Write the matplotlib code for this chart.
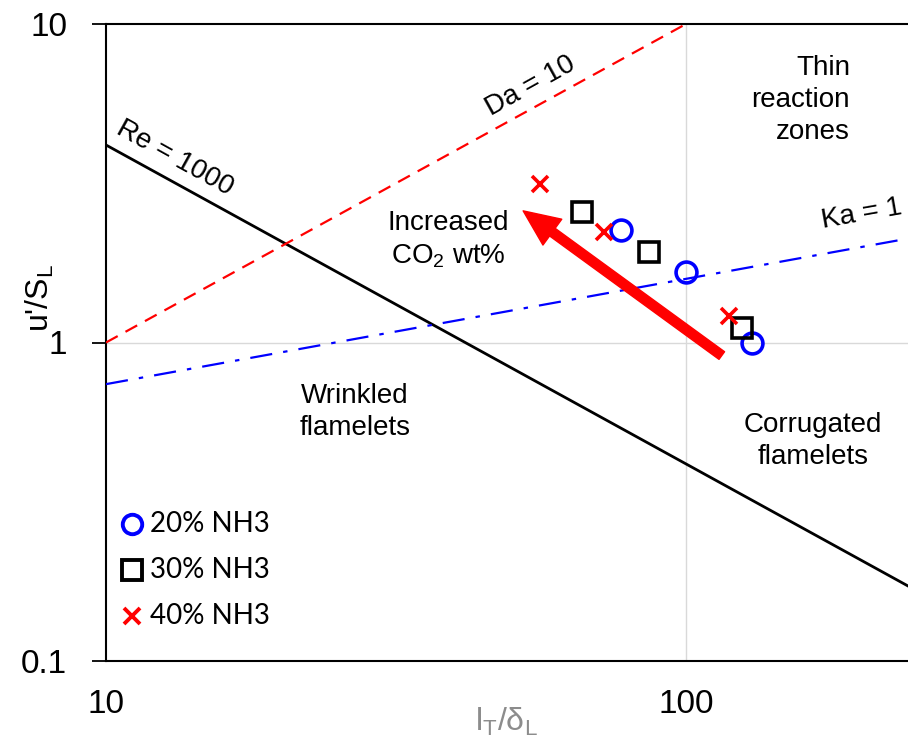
import matplotlib.pyplot as plt

# Combustion regime diagram data
ratio_20 = [77.3, 100.0, 130.0]     # l_T/delta_L
speed_20 = [2.26, 1.66, 1.0]        # u'/S_L
ratio_30 = [66.2, 86.3, 125.0]
speed_30 = [2.57, 1.93, 1.11]
ratio_40 = [56.0, 72.2, 118.6]
speed_40 = [3.15, 2.23, 1.21]

# Regime boundaries (end points)
re_x, re_y = [10, 241.5], [4.17, 0.172]
da_x, da_y = [10, 100], [1.0, 10.0]
ka_x, ka_y = [10, 241.5], [0.74, 2.12]

arrow_tail = (115.3, 0.91)
arrow_tip = (52.4, 2.59)

W, H = 908, 746
fig = plt.figure(figsize=(W / 100, H / 100), dpi=100)
ax = fig.add_axes([106 / W, (H - 661) / H, (W - 106) / W, (661 - 24) / H])
ax.set_xscale('log')
ax.set_yscale('log')
ax.set_xlim(10, 241.5)
ax.set_ylim(0.1, 10)

sans = ['Liberation Sans', 'DejaVu Sans']

ax.plot(re_x, re_y, color='black', lw=2.0, zorder=3)
ax.plot(da_x, da_y, color='red', lw=1.6, dashes=(6, 4), zorder=3)
ax.plot(ka_x, ka_y, color='blue', lw=1.6, dashes=(10, 5, 2, 5), zorder=3)

ax.plot(ratio_20, speed_20, 'o', ms=15, mfc='none', mec='blue', mew=2.6, ls='none', zorder=4)
ax.plot(ratio_30, speed_30, 's', ms=15, mfc='none', mec='black', mew=2.6, ls='none', zorder=4)
ax.plot(ratio_40, speed_40, 'x', ms=12, mec='red', mew=2.6, ls='none', zorder=4)

ax.annotate('', xy=arrow_tip, xytext=arrow_tail,
            arrowprops=dict(arrowstyle='simple,head_width=1.15,head_length=1.3,tail_width=0.34',
                            color='red', shrinkA=0, shrinkB=0, mutation_scale=20),
            zorder=5)

# grid only at the major decades
ax.axvline(100, color='#d9d9d9', lw=1, zorder=1)
ax.axhline(1, color='#d9d9d9', lw=1, zorder=1)

ax.spines['right'].set_visible(False)
for s in ['left', 'bottom', 'top']:
    ax.spines[s].set_linewidth(1.5)

ax.set_xticks([10, 100])
ax.set_xticklabels(['10', '100'])
ax.set_yticks([0.1, 1, 10])
ax.set_yticklabels(['0.1', '1', '10'])
ax.minorticks_off()
ax.tick_params(axis='x', length=0, pad=20)
ax.tick_params(axis='y', length=10, width=1.3, pad=18)
for lab in ax.get_xticklabels() + ax.get_yticklabels():
    lab.set_family(sans)
    lab.set_fontsize(24)

fig.text(506 / W, (H - 722) / H, r'l$_\mathregular{T}$/δ$_\mathregular{L}$', fontsize=23,
         color='#8c8c8c', family=sans, ha='center', va='center')
fig.text(40 / W, (H - 298) / H, r"u'/S$_\mathregular{L}$", fontsize=23, family=sans,
         rotation=90, ha='center', va='center')

txt = dict(fontsize=20, family=sans, zorder=6)
ax.text(850, H - 100, 'Thin\nreaction\nzones', transform=None, ha='right', va='center',
        multialignment='right', linespacing=1.3, **txt)
ax.text(355, H - 412, 'Wrinkled\nflamelets', transform=None, ha='center', va='center',
        linespacing=1.3, **txt)
ax.text(813, H - 441, 'Corrugated\nflamelets', transform=None, ha='center', va='center',
        linespacing=1.3, **txt)
ax.text(448, H - 240, 'Increased\nCO$_\\mathregular{2}$ wt%', transform=None, ha='center',
        va='center', linespacing=1.25, **txt)

ax.text(175, H - 158, 'Re = 1000', transform=None, rotation=-29, ha='center', va='center', **txt)
ax.text(531, H - 86, 'Da = 10', transform=None, rotation=29, ha='center', va='center', **txt)
ax.text(862, H - 214, 'Ka = 1', transform=None, rotation=10, ha='center', va='center', **txt)

# legend drawn as a manual key
legend_font = ['Lato', 'DejaVu Sans']
rows = [('o', 'blue', 'none', '20% NH3'), ('s', 'black', 'none', '30% NH3'),
        ('x', 'red', 'red', '40% NH3')]
for i, (m, c, fc, lab) in enumerate(rows):
    y_px = H - (524 + 46 * i)
    fig.lines.append(plt.Line2D([132 / W], [y_px / H], transform=fig.transFigure,
                                marker=m, ms=14 if m != 'x' else 11, mfc=fc, mec=c, mew=2.8, ls='none'))
    fig.text(150 / W, y_px / H, lab, fontsize=20, family=legend_font, va='center', ha='left')

fig.savefig('out.png', dpi=100)
